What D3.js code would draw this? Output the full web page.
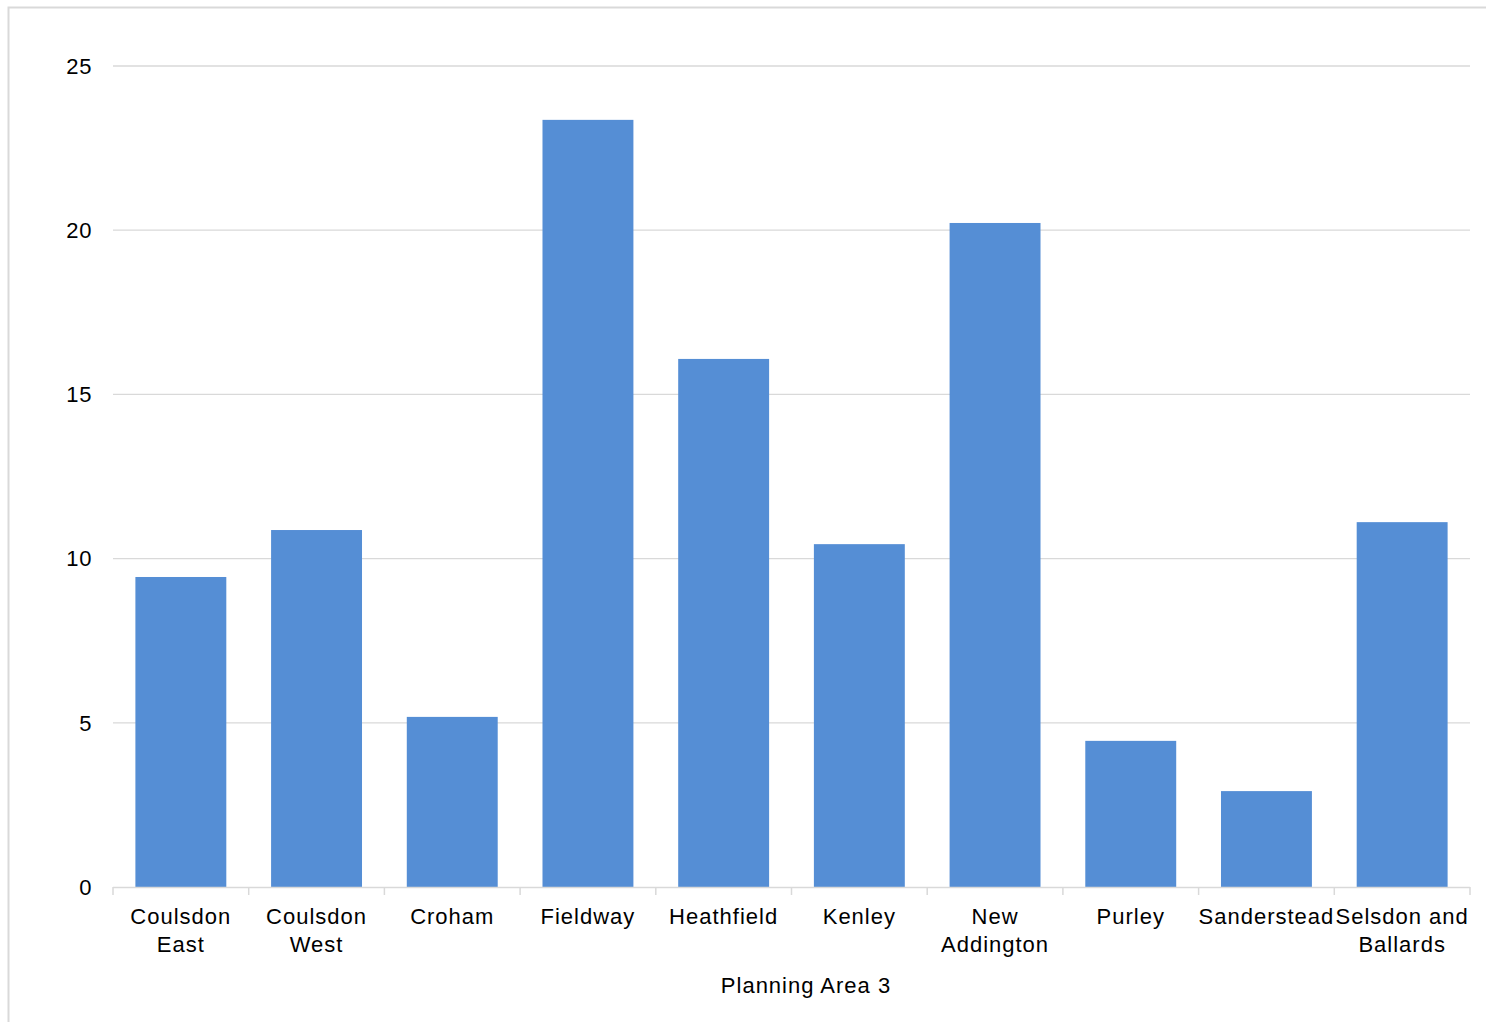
<!DOCTYPE html>
<html><head><meta charset="utf-8">
<script src="https://cdn.jsdelivr.net/npm/d3@7"></script>
<style>body{margin:0;background:#fff}svg{display:block}</style>
</head><body>
<svg id="chart" width="1486" height="1022"></svg>
<script>
const categories = [["Coulsdon","East"],["Coulsdon","West"],["Croham"],["Fieldway"],["Heathfield"],["Kenley"],["New","Addington"],["Purley"],["Sanderstead"],["Selsdon and","Ballards"]];
const values = [9.44, 10.87, 5.18, 23.36, 16.08, 10.44, 20.22, 4.45, 2.92, 11.11];
const yTicks = [0, 5, 10, 15, 20, 25];
const xTitle = "Planning Area 3";

const svg = d3.select("#chart");
const font = "'Liberation Sans', Arial, sans-serif";
svg.append("rect").attr("x",8.5).attr("y",7.5).attr("width",1500).attr("height",1100)
  .attr("fill","none").attr("stroke","#d9d9d9").attr("stroke-width",2);

const m = {left:113, right:1470, top:66, bottom:887};
const keys = categories.map((c,i)=>i);
const x = d3.scaleBand().domain(keys).range([m.left,m.right]).paddingInner(0.33).paddingOuter(0.165);
const y = d3.scaleLinear().domain([0,25]).range([m.bottom,m.top]);

const grid = svg.append("g");
grid.selectAll("line").data(yTicks.filter(d=>d>0)).join("line")
  .attr("x1",m.left).attr("x2",m.right).attr("y1",d=>y(d)).attr("y2",d=>y(d))
  .attr("stroke","#d9d9d9").attr("stroke-width",1.3);

svg.append("g").selectAll("text").data(yTicks).join("text")
  .attr("x",92).attr("y",d=>y(d)).attr("dy","0.35em").attr("text-anchor","end")
  .attr("font-family",font).attr("font-size",22).attr("letter-spacing",0.6).attr("fill","#000").text(d=>d);

svg.append("g").selectAll("rect").data(values).join("rect")
  .attr("x",(d,i)=>x(i)).attr("width",x.bandwidth())
  .attr("y",d=>y(d)).attr("height",d=>y(0)-y(d)).attr("fill","#558ed5");

// x axis line and ticks
const ax = svg.append("g");
ax.append("line").attr("x1",m.left).attr("x2",m.right).attr("y1",m.bottom+0.5).attr("y2",m.bottom+0.5)
  .attr("stroke","#d9d9d9").attr("stroke-width",1.5);
const bounds = d3.range(categories.length+1).map(i=> m.left + (m.right-m.left)*i/categories.length);
ax.selectAll("line.t").data(bounds).join("line").attr("class","t")
  .attr("x1",d=>d).attr("x2",d=>d).attr("y1",m.bottom).attr("y2",m.bottom+8)
  .attr("stroke","#d9d9d9").attr("stroke-width",1.5);

const lbl = svg.append("g");
categories.forEach((lines,i)=>{
  const t = lbl.append("text").attr("text-anchor","middle")
    .attr("font-family",font).attr("font-size",22).attr("letter-spacing",1)
    .attr("fill","#000");
  lines.forEach((s,j)=>{
    t.append("tspan").attr("x",x(i)+x.bandwidth()/2).attr("y",924+j*27.5).text(s);
  });
});

svg.append("text").attr("x",806).attr("y",993).attr("text-anchor","middle")
  .attr("font-family",font).attr("font-size",22).attr("letter-spacing",1)
  .attr("fill","#000").text(xTitle);
</script>
</body></html>
